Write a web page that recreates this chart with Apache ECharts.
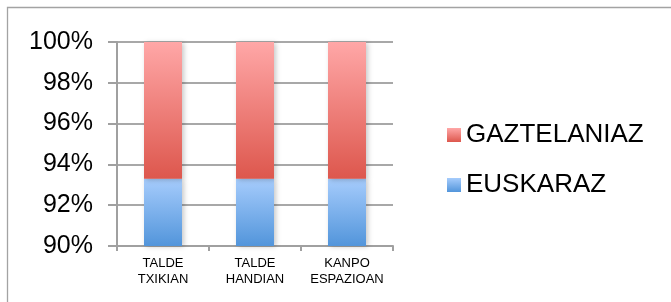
<!DOCTYPE html>
<html>
<head>
<meta charset="utf-8">
<script src="https://cdn.jsdelivr.net/npm/echarts@6/dist/echarts.min.js"></script>
<style>
html,body{margin:0;padding:0;background:#fff;}
#c{width:671px;height:302px;}
</style>
</head>
<body>
<div id="c"></div>
<script>
var categories = ['TALDE\nTXIKIAN', 'TALDE\nHANDIAN', 'KANPO\nESPAZIOAN'];
var euskaraz = [93.3, 93.3, 93.3];
var gaztelaniaz = [6.7, 6.7, 6.7];
var yTicks = [90, 92, 94, 96, 98, 100];

var FONT = "'Liberation Sans', Arial, sans-serif";
var chart = echarts.init(document.getElementById('c'), null, {renderer: 'canvas'});

function grad(top, bottom) {
  return new echarts.graphic.LinearGradient(0, 0, 0, 1, [
    {offset: 0, color: top}, {offset: 1, color: bottom}
  ]);
}

chart.setOption({
  animation: false,
  backgroundColor: '#fff',
  textStyle: {fontFamily: FONT},
  graphic: [{
    type: 'rect',
    shape: {x: 7.5, y: 7.5, width: 720, height: 320},
    style: {fill: 'none', stroke: '#a3a3a3', lineWidth: 1.3},
    silent: true, z: -10
  }],
  grid: {left: 117, right: 278, top: 42, bottom: 56, containLabel: false},
  legend: {
    orient: 'vertical',
    left: 442, top: 114,
    itemWidth: 14, itemHeight: 14,
    itemGap: 18,
    icon: 'rect',
    data: ['GAZTELANIAZ', 'EUSKARAZ'],
    textStyle: {fontSize: 26, color: '#000', fontFamily: FONT, lineHeight: 26, padding: [6, 0, 0, 0]},
    itemStyle: {shadowBlur: 0, shadowOffsetX: 0}
  },
  xAxis: {
    type: 'category',
    data: categories,
    axisLine: {lineStyle: {color: '#a0a0a0', width: 2}},
    axisTick: {show: true, length: 5, lineStyle: {color: '#a0a0a0', width: 2}},
    axisLabel: {fontSize: 13, color: '#000', lineHeight: 16, margin: 9, fontFamily: FONT, interval: 0}
  },
  yAxis: {
    type: 'value',
    min: yTicks[0], max: yTicks[yTicks.length - 1], interval: 2,
    axisLine: {show: true, lineStyle: {color: '#a0a0a0', width: 2}},
    axisTick: {show: true, length: 9, lineStyle: {color: '#a0a0a0', width: 2}},
    splitLine: {lineStyle: {color: '#a8a8a8', width: 2}},
    axisLabel: {fontSize: 25, color: '#000', margin: 24, fontFamily: FONT,
      formatter: function (v) { return v + '%'; }}
  },
  series: [{
    name: 'EUSKARAZ', type: 'bar', stack: 'a', data: euskaraz,
    barWidth: 38,
    itemStyle: {color: grad('#a6ccfc', '#5295db'),
      shadowColor: 'rgba(0,0,0,0.22)', shadowBlur: 5, shadowOffsetX: 2, shadowOffsetY: 1}
  }, {
    name: 'GAZTELANIAZ', type: 'bar', stack: 'a', data: gaztelaniaz,
    barWidth: 38,
    itemStyle: {color: grad('#ffa7a7', '#dd574d'),
      shadowColor: 'rgba(0,0,0,0.22)', shadowBlur: 5, shadowOffsetX: 2, shadowOffsetY: 1}
  }]
});
</script>
</body>
</html>
